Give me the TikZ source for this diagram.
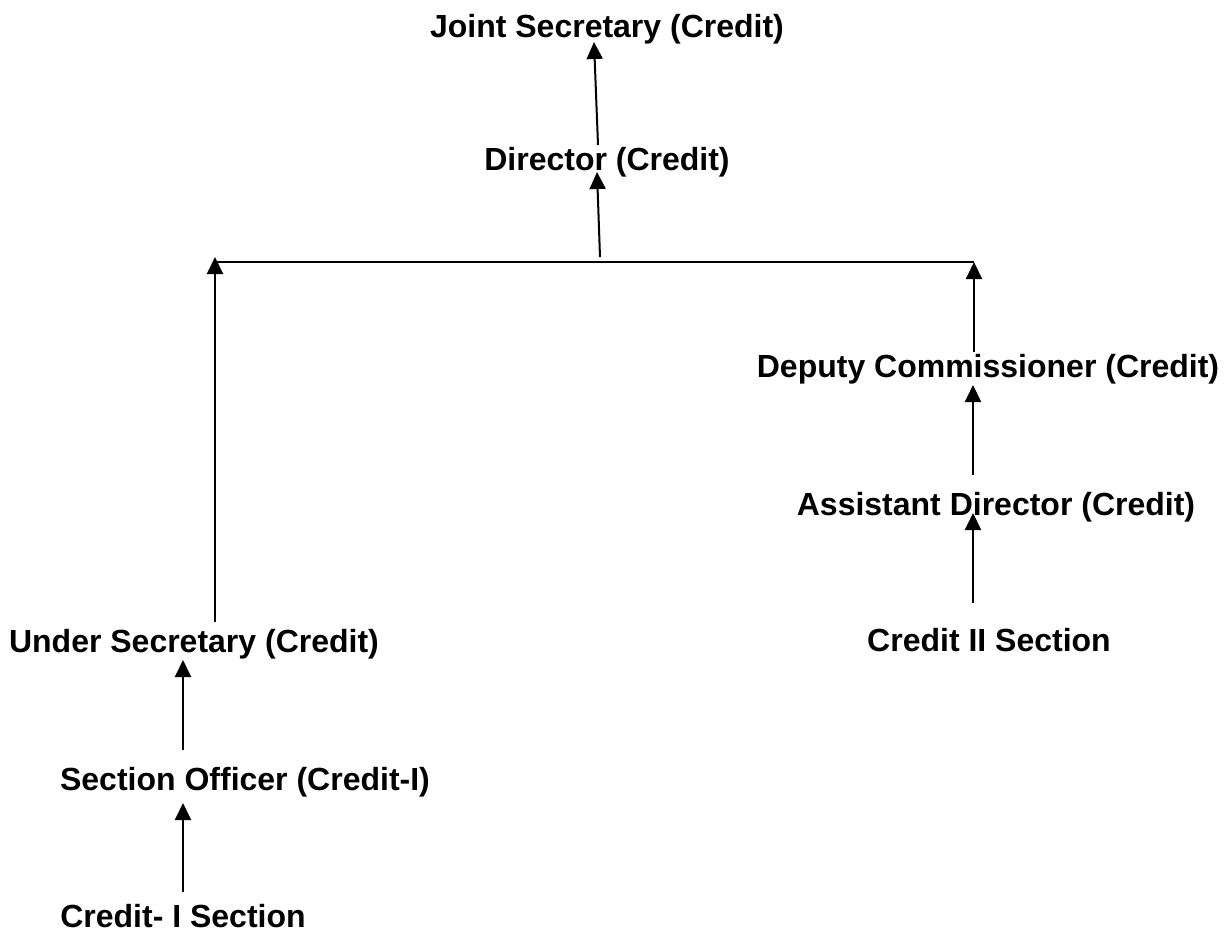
\documentclass[tikz,border=0pt]{standalone}
\usepackage{fontspec}
\setmainfont{Liberation Sans}
\usetikzlibrary{arrows.meta}
\tikzset{
    post/.style={inner sep=0pt, anchor=base, font=\fontsize{16}{19}\selectfont\bfseries},
    arrow/.style={line width=1pt, -{Triangle[width=8pt,length=8.5pt]}},
    link/.style={line width=1pt}
}

\begin{document}
\begin{tikzpicture}[x=0.5pt, y=-0.5pt]
            \useasboundingbox (0,0) rectangle (1230,934);
            \node[post] (js) at (607,37) {Joint Secretary (Credit)};
            \node[post] (dir) at (607,170) {Director (Credit)};
            \node[post] (dc) at (988,377) {Deputy Commissioner (Credit)};
            \node[post] (ad) at (996,515) {Assistant Director (Credit)};
            \node[post] (cii) at (989,651) {Credit II Section};
            \node[post] (us) at (194,652) {Under Secretary (Credit)};
            \node[post] (so) at (245,790) {Section Officer (Credit-I)};
            \node[post] (ci) at (183,927) {Credit- I Section};

            % arrow ends
            \coordinate (js-in) at (594,42);
            \coordinate (dir-out) at (598,145);
            \coordinate (dir-in) at (597,172);
            \coordinate (hub) at (600,257);
            \coordinate (bar-l) at (215,262);
            \coordinate (bar-r) at (974,262);
            \coordinate (us-out) at (215,622);
            \coordinate (us-top) at (215,257);
            \coordinate (dc-out) at (974,352);
            \coordinate (dc-in) at (973,385);
            \coordinate (ad-out) at (973,475);
            \coordinate (ad-in) at (973,513);
            \coordinate (cii-out) at (973,603);
            \coordinate (us-in) at (183,660);
            \coordinate (so-out) at (183,750);
            \coordinate (so-in) at (183,803);
            \coordinate (ci-out) at (183,892);

            \draw[link] (bar-l) -- (bar-r);
            \draw[arrow] (dir-out) -- (js-in);
            \draw[arrow] (hub) -- (dir-in);
            \draw[arrow] (us-out) -- (us-top);
            \draw[arrow] (dc-out) -- (bar-r);
            \draw[arrow] (ad-out) -- (dc-in);
            \draw[arrow] (cii-out) -- (ad-in);
            \draw[arrow] (so-out) -- (us-in);
            \draw[arrow] (ci-out) -- (so-in);
        \end{tikzpicture}
\end{document}
